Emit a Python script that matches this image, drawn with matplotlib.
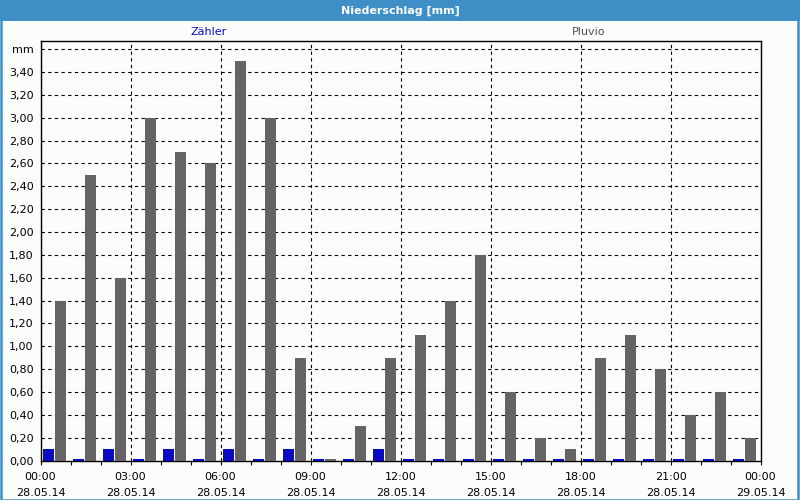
import matplotlib
matplotlib.use("Agg")
import matplotlib.pyplot as plt
from matplotlib.patches import Rectangle
import numpy as np

hours = list(range(24))
zaehler = [0.10, 0.01, 0.10, 0.01, 0.10, 0.01, 0.10, 0.01, 0.10, 0.01, 0.01, 0.10,
           0.01, 0.01, 0.01, 0.01, 0.01, 0.01, 0.01, 0.01, 0.01, 0.01, 0.01, 0.01]
pluvio = [1.40, 2.50, 1.60, 3.00, 2.70, 2.60, 3.50, 3.00, 0.90, 0.01, 0.30, 0.90,
          1.10, 1.40, 1.80, 0.60, 0.20, 0.10, 0.90, 1.10, 0.80, 0.40, 0.60, 0.20]
x_tick_hours = [0, 3, 6, 9, 12, 15, 18, 21, 24]
x_tick_labels = ["00:00\n28.05.14", "03:00\n28.05.14", "06:00\n28.05.14", "09:00\n28.05.14",
                 "12:00\n28.05.14", "15:00\n28.05.14", "18:00\n28.05.14", "21:00\n28.05.14",
                 "00:00\n29.05.14"]
y_ticks = [round(0.2 * i, 1) for i in range(19)]
y_tick_labels = [f"{v:.2f}".replace(".", ",") for v in y_ticks[:-1]] + ["mm"]

plt.rcParams['font.family'] = ['DejaVu Sans']
fig = plt.figure(figsize=(8, 5), dpi=100, facecolor="#fbfdfb")

# title bar & border
fig.patches.append(Rectangle((0, 1 - 20.5 / 500), 1, 20.5 / 500, transform=fig.transFigure,
                             facecolor="#3d8fc6", edgecolor="none", zorder=0))
fig.patches.append(Rectangle((0.5 / 800, 0.5 / 500), 1 - 3 / 800, 1 - 2 / 500, transform=fig.transFigure,
                             facecolor="none", edgecolor="#3d8fc6", linewidth=1.8, zorder=1))
fig.text(0.5, 1 - 10.5 / 500, "Niederschlag [mm]", color="white", fontweight="bold",
         fontsize=8, ha="center", va="center")

ax = fig.add_axes([40.5 / 800, 1 - 460.5 / 500, 720 / 800, (460.5 - 40.5) / 500])
ax.set_facecolor("#fbfdfb")

h = np.array(hours, dtype=float)
ax.bar(h + 2 / 30, zaehler, width=11 / 30, align="edge", color="#0a0ac4", zorder=3)
ax.bar(h + 14 / 30, pluvio, width=11 / 30, align="edge", color="#656365", zorder=3)

ax.set_xlim(0, 24)
ax.set_ylim(0, 3.675)
ax.set_xticks(x_tick_hours)
ax.set_xticklabels(x_tick_labels, fontsize=8, linespacing=1.75)
ax.set_xticks(hours, minor=True)
ax.set_yticks(y_ticks)
ax.set_yticklabels(y_tick_labels, fontsize=8)
ax.tick_params(axis="x", which="both", direction="out", length=3, width=0.8, pad=5)
ax.tick_params(axis="y", length=0, pad=5)

ax.grid(True, which="major", color="black", linestyle=(0, (3, 3)), linewidth=0.8, zorder=1)
ax.set_axisbelow(True)
for s in ax.spines.values():
    s.set_color("black")
    s.set_linewidth(1.0)

fig.text(209 / 800, 1 - 32 / 500, "Zähler", color="#0a0ac4", fontsize=8, ha="center", va="center")
fig.text(589 / 800, 1 - 32 / 500, "Pluvio", color="#505050", fontsize=8, ha="center", va="center")

fig.savefig("out.png", dpi=100, facecolor=fig.get_facecolor())
